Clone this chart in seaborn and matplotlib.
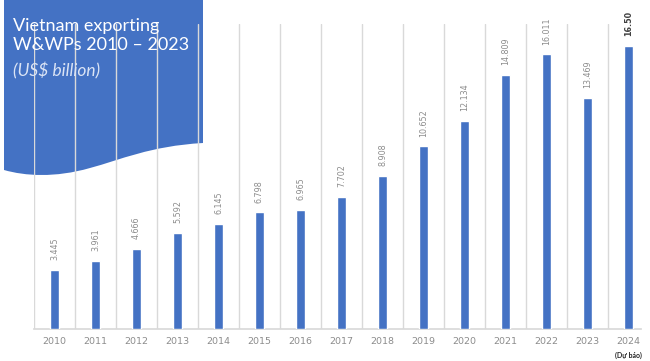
import numpy as np
import pandas as pd
import matplotlib
matplotlib.use("Agg")
import matplotlib.pyplot as plt
from matplotlib.path import Path
from matplotlib.patches import PathPatch
import seaborn as sns

years = ["2010", "2011", "2012", "2013", "2014", "2015", "2016", "2017",
         "2018", "2019", "2020", "2021", "2022", "2023", "2024"]
values = [3.445, 3.961, 4.666, 5.592, 6.145, 6.798, 6.965, 7.702,
          8.908, 10.652, 12.134, 14.809, 16.011, 13.469, 16.50]
value_labels = ["3.445", "3.961", "4.666", "5.592", "6.145", "6.798", "6.965", "7.702",
                "8.908", "10.652", "12.134", "14.809", "16.011", "13.469", "16.50"]
title_lines = ["Vietnam exporting", "W&WPs 2010 \u2013 2023"]
subtitle = "(US$ billion)"
forecast_note = "(D\u1ef1 b\u00e1o)"

sns.set_theme(style="white")
plt.rcParams["font.family"] = ["Lato", "DejaVu Sans"]

df = pd.DataFrame({"year": years, "value": values})

fig = plt.figure(figsize=(6.5, 3.61), dpi=100)
step = 41.0
ax = fig.add_axes([34/650, 32/361, 14.75*step/650, 305/361])
ax.set_facecolor("none")

sns.barplot(data=df, x="year", y="value", color="#4472C4", saturation=1,
            width=0.2, ax=ax, zorder=3)

ax.set_xlim(-0.5, 14.25)
ax.set_ylim(0, 17.78)
ax.grid(False)

# vertical category separators
for b in np.arange(-0.5, 14, 1):
    ax.axvline(b, ymin=0, ymax=1, color="#d9d9d9", linewidth=1, zorder=0,
               clip_on=True)

ax.tick_params(which="both", length=0)
ax.tick_params(axis="x", pad=6)
for lab in ax.get_xticklabels():
    lab.set_fontfamily("DejaVu Sans")
    lab.set_fontsize(6.8)
    lab.set_color("#8c8c8c")
ax.set_yticks([])
ax.set_xlabel("")
ax.set_ylabel("")
for s in ["top", "right", "left"]:
    ax.spines[s].set_visible(False)
ax.spines["bottom"].set_color("#d9d9d9")
ax.spines["bottom"].set_bounds(-0.5, 14.3)

texts = ax.bar_label(ax.containers[0], labels=value_labels, rotation=90,
                     padding=7, fontsize=5.8, color="#8c8c8c",
                     fontfamily="DejaVu Sans")
texts[-1].set_fontweight("bold")
texts[-1].set_color("#404040")

ax.text(14, -0.075, forecast_note, transform=ax.get_xaxis_transform(),
        ha="center", va="top", fontsize=5, fontweight="bold", color="#222222")

# title shape (wave bottom)
W, H = 650, 361
pts = [(4, 0), (203, 0), (203, 143),
       (150, 146), (120, 160), (90, 168),
       (55, 178), (25, 176), (4, 170), (4, 0)]
codes = [Path.MOVETO, Path.LINETO, Path.LINETO,
         Path.CURVE4, Path.CURVE4, Path.CURVE4,
         Path.CURVE4, Path.CURVE4, Path.CURVE4, Path.CLOSEPOLY]
verts = [(x / W, 1 - y / H) for x, y in pts]
patch = PathPatch(Path(verts, codes), transform=fig.transFigure,
                  facecolor="#4472C4", edgecolor="none", zorder=-1)
fig.patches.append(patch)

fig.text(13/W, 1 - 18/H, title_lines[0] + "\n" + title_lines[1],
         ha="left", va="top", fontsize=13, color="white", linespacing=1.2,
         zorder=5)
fig.text(13/W, 1 - 62/H, subtitle, ha="left", va="top", fontsize=12.5,
         style="italic", color="#dbe4f5", zorder=5)

fig.savefig("out.png", dpi=100)
